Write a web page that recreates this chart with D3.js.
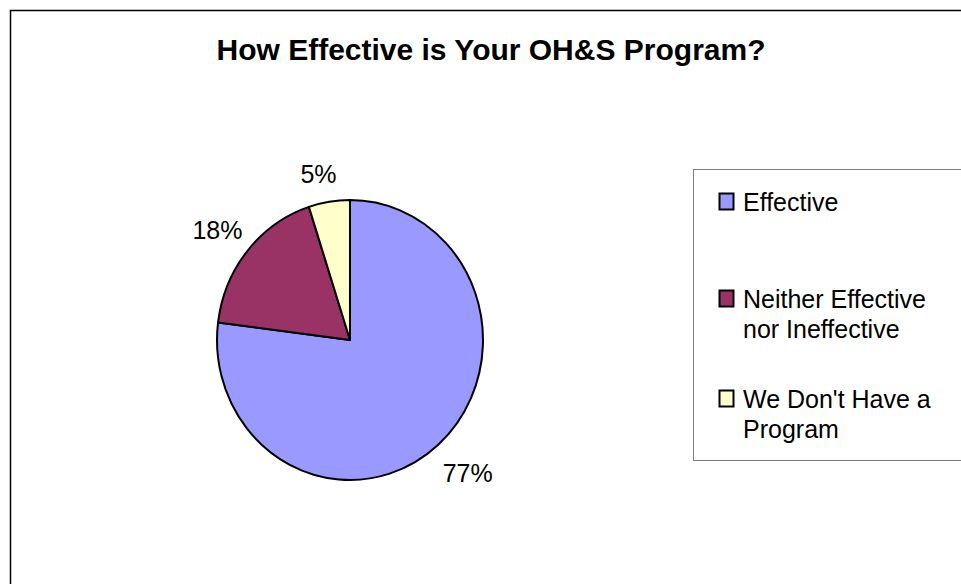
<!DOCTYPE html>
<html>
<head>
<meta charset="utf-8">
<script src="https://cdn.jsdelivr.net/npm/d3@7"></script>
<style>
  html, body { margin: 0; padding: 0; background: #fff; }
  svg { display: block; font-family: Arial, "Liberation Sans", sans-serif; }
</style>
</head>
<body>
<svg id="chart" width="961" height="584"></svg>
<script>
const title = "How Effective is Your OH&S Program?";
const categories = ["Effective", "Neither Effective nor Ineffective", "We Don't Have a Program"];
const legendLines = [["Effective"], ["Neither Effective", "nor Ineffective"], ["We Don't Have a", "Program"]];
const values = [77, 18, 5];
const colors = ["#9999FF", "#993366", "#FFFFCC"];

const svg = d3.select("#chart");
const W = 961, H = 584;

svg.append("rect").attr("width", W).attr("height", H).attr("fill", "#fff");

// outer chart border (cropped at right/bottom)
svg.append("rect")
  .attr("x", 10.5).attr("y", 10.5).attr("width", 1200).attr("height", 1200)
  .attr("fill", "none").attr("stroke", "#000").attr("stroke-width", 1.5);

// title
svg.append("text")
  .attr("x", 491).attr("y", 60)
  .attr("text-anchor", "middle")
  .attr("font-size", 30).attr("font-weight", "bold").attr("fill", "#000")
  .text(title);

// pie
const cx = 350, cy = 340, R = 140, sx = 133 / 140;
const pie = d3.pie().sort(null).value(d => d);
const arcs = pie(values);
const arc = d3.arc().innerRadius(0).outerRadius(R);

const g = svg.append("g").attr("transform", `translate(${cx},${cy}) scale(${sx},1)`);
g.selectAll("path").data(arcs).join("path")
  .attr("d", arc)
  .attr("fill", (d, i) => colors[i])
  .attr("stroke", "#000").attr("stroke-width", 2)
  .attr("stroke-linejoin", "round")
  .attr("vector-effect", "non-scaling-stroke");

// labels
const labelR = [178, 172, 168];
const fmt = v => Math.round(v / d3.sum(values) * 100) + "%";
svg.selectAll("text.lbl").data(arcs).join("text")
  .attr("class", "lbl")
  .attr("x", (d, i) => {
    const a = (d.startAngle + d.endAngle) / 2;
    return cx + Math.sin(a) * labelR[i] * (i === 2 ? 1.2 : 1);
  })
  .attr("y", (d, i) => {
    const a = (d.startAngle + d.endAngle) / 2;
    return cy - Math.cos(a) * labelR[i];
  })
  .attr("dy", "0.35em")
  .attr("text-anchor", "middle")
  .attr("font-size", 25).attr("fill", "#000")
  .text(d => fmt(d.value));

// legend
svg.append("rect")
  .attr("x", 693.5).attr("y", 169.5).attr("width", 400).attr("height", 291)
  .attr("fill", "#fff").attr("stroke", "#808080").attr("stroke-width", 1);

const firstBaselines = [211, 308, 408];
const lineH = 30;
const lg = svg.append("g");
categories.forEach((c, i) => {
  lg.append("rect")
    .attr("x", 719.5).attr("y", firstBaselines[i] - 17.5)
    .attr("width", 14).attr("height", 16)
    .attr("fill", colors[i]).attr("stroke", "#000").attr("stroke-width", 2);
  const t = lg.append("text")
    .attr("x", 743).attr("y", firstBaselines[i])
    .attr("font-size", 25).attr("fill", "#000");
  legendLines[i].forEach((ln, j) => {
    t.append("tspan").attr("x", 743).attr("y", firstBaselines[i] + j * lineH).text(ln);
  });
});
</script>
</body>
</html>
